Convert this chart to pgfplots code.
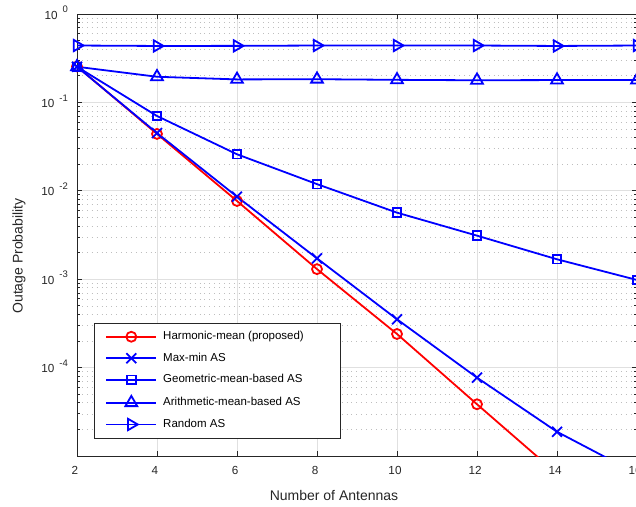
\documentclass[border=0pt]{standalone}
\usepackage{pgfplots}
\pgfplotsset{compat=1.18}
\usepackage{fontspec}
\setmainfont{Liberation Sans}
\definecolor{axgray}{RGB}{38,38,38}
\definecolor{majgrid}{RGB}{224,224,224}
\definecolor{mingrid}{RGB}{190,190,190}
\newcommand{\tl}[1]{10\hspace{5pt}\raisebox{6.3pt}{\fontsize{9.5}{10}\selectfont #1}}
\begin{document}
\begin{tikzpicture}
\begin{axis}[
  at={(77pt,50pt)}, anchor=south west,
  scale only axis, width=560pt, height=442pt,
  ymode=log, xmin=2, xmax=16, ymin=1e-5, ymax=1,
  xtick={2,4,6,8,10,12,14,16},
  xticklabels={2,4,6,8,10,12,14,16},
  ytick={1e-4,1e-3,1e-2,1e-1,1},
  yticklabels={\tl{-4},\tl{-3},\tl{-2},\tl{-1},\tl{0}},
  minor ytick={2e-5,3e-5,4e-5,5e-5,6e-5,7e-5,8e-5,9e-5,
               2e-4,3e-4,4e-4,5e-4,6e-4,7e-4,8e-4,9e-4,
               2e-3,3e-3,4e-3,5e-3,6e-3,7e-3,8e-3,9e-3,
               2e-2,3e-2,4e-2,5e-2,6e-2,7e-2,8e-2,9e-2,
               2e-1,3e-1,4e-1,5e-1,6e-1,7e-1,8e-1,9e-1},
  grid=both,
  major grid style={majgrid, line width=0.8pt},
  minor grid style={mingrid, dash pattern=on 0.9pt off 4pt, line width=0.6pt},
  axis line style={axgray, line width=0.8pt},
  tick style={axgray, line width=0.8pt},
  major tick length=5pt, minor tick length=3pt,
  tick align=inside,
  ticklabel style={font=\fontsize{11.7}{12}\selectfont, text=axgray},
  xticklabel style={anchor=north, inner sep=0pt, yshift=-10pt, xshift=-2pt},
  yticklabel style={anchor=base east, inner sep=0pt, xshift=-9pt, yshift=-5pt},
  legend style={at={(0.0304,0.3009)}, anchor=north west, draw=axgray, line width=0.8pt,
    fill=white, inner xsep=11pt, inner ysep=8pt, row sep=10.8pt,
    font=\fontsize{11.5}{12}\selectfont,
    nodes={inner sep=0pt, text height=8.3pt, text depth=2.4pt}},
  legend cell align=left,
  legend image code/.code={\draw[mark repeat=2,mark phase=2] plot coordinates {(0pt,0pt) (25pt,0pt) (50pt,0pt)};},
]
\addplot[red, line width=1.8pt, mark=o, mark size=5pt, mark options={solid}]
  coordinates {(2,0.255) (4,0.044) (6,0.00767) (8,0.0013) (10,0.00024) (12,3.85e-5) (14,6.3e-6) (16,1e-6)};
\addlegendentry{\makebox[172pt][l]{\hspace{6pt}Harmonic-mean (proposed)}}
\addplot[blue, line width=1.8pt, mark=x, mark size=7pt, mark options={solid}]
  coordinates {(2,0.253) (4,0.045) (6,0.00858) (8,0.00172) (10,0.000352) (12,7.7e-5) (14,1.88e-5) (16,6.3e-6)};
\addlegendentry{\makebox[172pt][l]{\hspace{6pt}Max-min AS}}
\addplot[blue, line width=1.8pt, mark=square, mark size=4.3pt, mark options={solid}]
  coordinates {(2,0.253) (4,0.0702) (6,0.0259) (8,0.0119) (10,0.00566) (12,0.00311) (14,0.00168) (16,0.00098)};
\addlegendentry{\makebox[172pt][l]{\hspace{6pt}Geometric-mean-based AS}}
\addplot[blue, line width=1.8pt, mark=triangle, mark size=6.8pt, mark options={solid}]
  coordinates {(2,0.253) (4,0.195) (6,0.182) (8,0.183) (10,0.18) (12,0.178) (14,0.179) (16,0.179)};
\addlegendentry{\makebox[172pt][l]{\hspace{6pt}Arithmetic-mean-based AS}}
\addplot[blue, line width=1.8pt, mark=triangle, mark size=6.5pt, mark options={solid, rotate=-90}]
  coordinates {(2,0.44) (4,0.435) (6,0.436) (8,0.44) (10,0.44) (12,0.44) (14,0.435) (16,0.44)};
\addlegendentry{\makebox[172pt][l]{\hspace{6pt}Random AS}}
\end{axis}
\node[anchor=base, font=\fontsize{14}{16}\selectfont, text=axgray, inner sep=0pt] at (334pt,6pt) {Number of Antennas};
\node[rotate=90, anchor=center, font=\fontsize{14}{16}\selectfont, text=axgray, inner sep=0pt] at (19pt,250pt) {Outage Probability};
\pgfresetboundingbox
\path[use as bounding box] (0pt,0pt) rectangle (636pt,506pt);
\end{tikzpicture}
\end{document}
